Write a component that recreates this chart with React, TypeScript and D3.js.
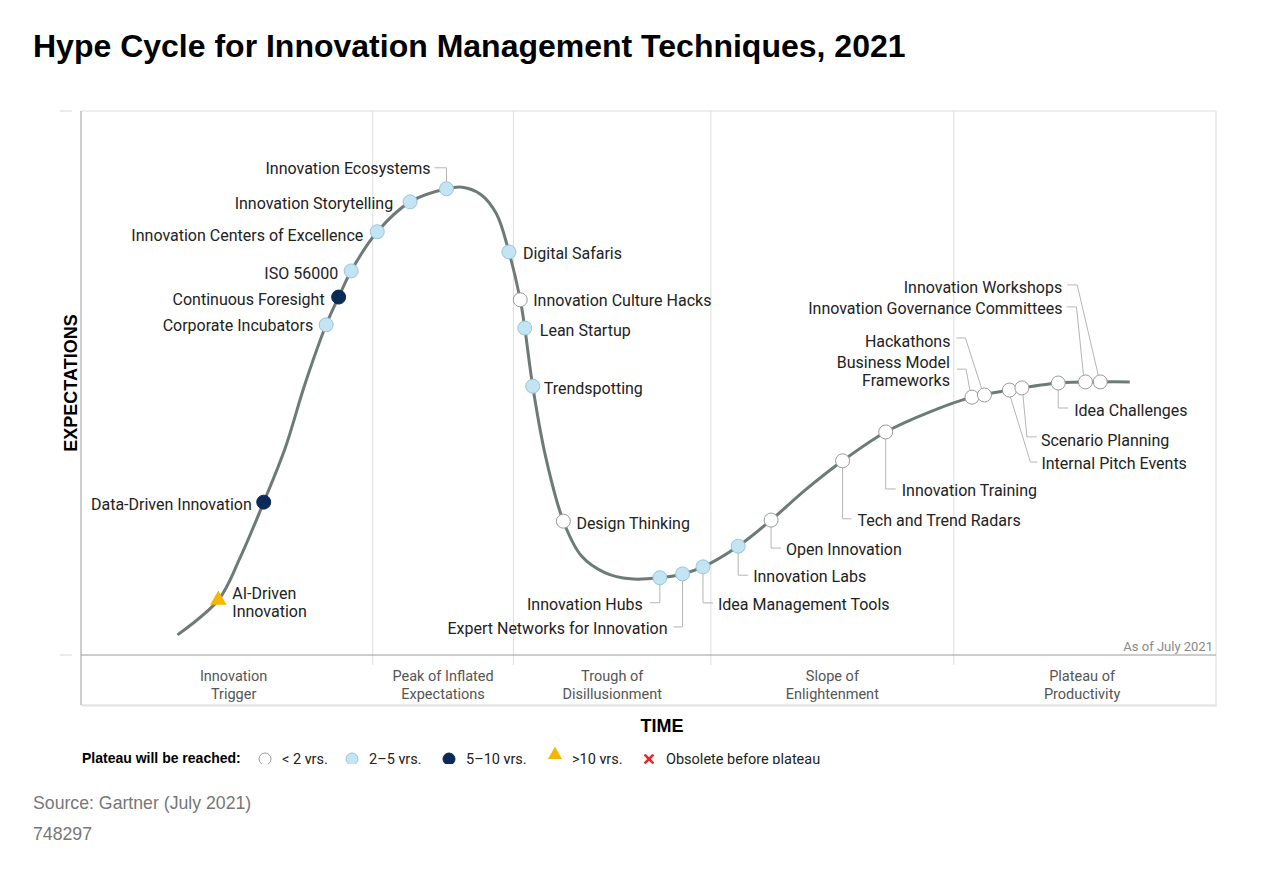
import React from "react";
import * as d3 from "d3";

// hype curve (time 0-100, expectations 0-100)
const curveTime = [8.5, 12.1, 14.0, 16.1, 18.0, 19.7, 21.6, 22.7, 23.8, 26.1, 29.0, 32.2, 33.6, 35.2, 36.6, 37.7, 38.7, 39.1, 39.8, 40.9, 42.5, 44.1, 46.2, 48.4, 51.0, 53.0, 54.8, 57.9, 60.8, 63.8, 67.1, 70.9, 74.8, 78.5, 81.8, 86.1, 89.8, 92.4];
const curveExp = [3.7, 10.1, 17.8, 28.1, 38.1, 49.6, 60.7, 65.8, 70.6, 77.8, 83.3, 85.7, 86.0, 84.7, 81.1, 74.1, 65.3, 60.1, 49.4, 36.8, 24.6, 18.2, 15.1, 14.0, 14.2, 14.9, 16.2, 20.0, 24.8, 30.3, 35.7, 41.0, 44.7, 47.4, 48.7, 50.0, 50.2, 50.2];

const techNames = [
  "AI-Driven\nInnovation", "Data-Driven Innovation", "Corporate Incubators", "Continuous Foresight",
  "ISO 56000", "Innovation Centers of Excellence", "Innovation Storytelling", "Innovation Ecosystems",
  "Digital Safaris", "Innovation Culture Hacks", "Lean Startup", "Trendspotting", "Design Thinking",
  "Innovation Hubs", "Expert Networks for Innovation", "Idea Management Tools", "Innovation Labs",
  "Open Innovation", "Tech and Trend Radars", "Innovation Training", "Business Model\nFrameworks",
  "Hackathons", "Internal Pitch Events", "Scenario Planning", "Idea Challenges",
  "Innovation Governance Committees", "Innovation Workshops",
];
const techTime = [12.1, 16.1, 21.6, 22.7, 23.8, 26.1, 29.0, 32.2, 37.7, 38.7, 39.1, 39.8, 42.5, 51.0, 53.0, 54.8, 57.9, 60.8, 67.1, 70.9, 78.5, 79.6, 81.8, 82.9, 86.1, 88.5, 89.8];
const techExp = [10.1, 28.1, 60.7, 65.8, 70.6, 77.8, 83.3, 85.7, 74.1, 65.3, 60.1, 49.4, 24.6, 14.2, 14.9, 16.2, 20.0, 24.8, 35.7, 41.0, 47.4, 47.8, 48.7, 49.1, 50.0, 50.2, 50.2];
// years to plateau: "lt2" | "2to5" | "5to10" | "gt10"
const techYears = [
  "gt10", "5to10", "2to5", "5to10", "2to5", "2to5", "2to5", "2to5", "2to5", "lt2", "2to5", "2to5", "lt2",
  "2to5", "2to5", "2to5", "2to5", "lt2", "lt2", "lt2", "lt2", "lt2", "lt2", "lt2", "lt2", "lt2", "lt2",
];

const phaseLabels = [
  ["Innovation", "Trigger"], ["Peak of Inflated", "Expectations"], ["Trough of", "Disillusionment"],
  ["Slope of", "Enlightenment"], ["Plateau of", "Productivity"],
];
const phaseBounds = [1.2, 25.7, 38.1, 55.5, 76.9, 99.5];

const legendLabels = ["< 2 yrs.", "2\u20135 yrs.", "5\u201310 yrs.", ">10 yrs.", "Obsolete before plateau"];
const legendKeys = ["lt2", "2to5", "5to10", "gt10", "obsolete"];

// label placement (pixel offsets from the marker)
type Lay = { dx: number; dy: number; anchor: "start" | "end"; leader?: [number, number][] };
const labelLayout: Lay[] = [
  { dx: 14, dy: -7, anchor: "start" },
  { dx: -12, dy: 2, anchor: "end" },
  { dx: -13, dy: 0, anchor: "end" },
  { dx: -14, dy: 2, anchor: "end" },
  { dx: -13, dy: 2, anchor: "end" },
  { dx: -14, dy: 3, anchor: "end" },
  { dx: -17, dy: 1, anchor: "end" },
  { dx: -16, dy: -21, anchor: "end", leader: [[-12, -21], [0, -21], [0, -7]] },
  { dx: 14, dy: 1, anchor: "start" },
  { dx: 13, dy: 0, anchor: "start" },
  { dx: 15, dy: 2, anchor: "start" },
  { dx: 11, dy: 2, anchor: "start" },
  { dx: 13, dy: 2, anchor: "start" },
  { dx: -17, dy: 26, anchor: "end", leader: [[0, 7], [0, 25], [-10, 25]] },
  { dx: -15, dy: 54, anchor: "end", leader: [[0, 7], [0, 53], [-9, 53]] },
  { dx: 15, dy: 37, anchor: "start", leader: [[0, 7], [0, 36], [10, 36]] },
  { dx: 15, dy: 30, anchor: "start", leader: [[0, 7], [0, 29], [10, 29]] },
  { dx: 15, dy: 29, anchor: "start", leader: [[0, 7], [0, 28], [10, 28]] },
  { dx: 15, dy: 59, anchor: "start", leader: [[0, 7], [0, 58], [9, 58]] },
  { dx: 16, dy: 58, anchor: "start", leader: [[0, 7], [0, 57], [10, 57]] },
  { dx: -22, dy: -35, anchor: "end", leader: [[-15, -28], [-6, -28], [-2, -7]] },
  { dx: -34, dy: -54, anchor: "end", leader: [[-28, -57], [-19, -57], [-3, -7]] },
  { dx: 32, dy: 73, anchor: "start", leader: [[1, 7], [21, 72], [28, 72]] },
  { dx: 19, dy: 52, anchor: "start", leader: [[1, 7], [5, 49], [15, 49]] },
  { dx: 16, dy: 27, anchor: "start", leader: [[0, 7], [0, 25], [10, 25]] },
  { dx: -23, dy: -74, anchor: "end", leader: [[-19, -75], [-9, -75], [-2, -7]] },
  { dx: -38, dy: -95, anchor: "end", leader: [[-33, -97], [-23, -97], [-2, -7]] },
];

const plot = { left: 81, right: 1216, top: 111, bottom: 655, band: 705 };
const SANS = "Roboto, 'Liberation Sans', Arial, sans-serif";
const ARIAL = "'Liberation Sans', Arial, sans-serif";

const fills: Record<string, string> = { lt2: "#ffffff", "2to5": "#c3e5f3", "5to10": "#0b2a57", gt10: "#f6b600" };
const strokes: Record<string, string> = { lt2: "#9a9a9a", "2to5": "#96c5da", "5to10": "#0b2a57", gt10: "#f6b600" };

function Marker({ kind, cx, cy, r }: { kind: string; cx: number; cy: number; r: number }) {
  if (kind === "gt10") {
    const tri = d3.symbol(d3.symbolTriangle, r * r * 2.4)();
    return <path d={tri || ""} transform={`translate(${cx},${cy})`} fill={fills.gt10} />;
  }
  if (kind === "obsolete") {
    const s = r * 0.6;
    return (
      <g transform={`translate(${cx},${cy})`} stroke="#e8262a" strokeWidth={2.6} strokeLinecap="round">
        <line x1={-s} y1={-s} x2={s} y2={s} />
        <line x1={-s} y1={s} x2={s} y2={-s} />
      </g>
    );
  }
  return <circle cx={cx} cy={cy} r={r} fill={fills[kind]} stroke={strokes[kind]} strokeWidth={1} />;
}

export default function App() {
  const x = d3.scaleLinear().domain([0, 100]).range([plot.left, plot.right]);
  const y = d3.scaleLinear().domain([0, 100]).range([plot.bottom, plot.top]);

  const pts = curveTime.map((t, i) => [t, curveExp[i]] as [number, number]);
  const line = d3
    .line<[number, number]>()
    .x((d) => x(d[0]))
    .y((d) => y(d[1]))
    .curve(d3.curveCatmullRom.alpha(0.5));

  const legendX = [265, 352, 449, 555, 649];

  return (
    <div style={{ position: "absolute", left: 0, top: 0 }}>
      <svg width={1280} height={871} style={{ display: "block" }}>
        <defs>
          <clipPath id="legclip">
            <rect x={0} y={740} width={900} height={24} />
          </clipPath>
        </defs>
        <rect width={1280} height={871} fill="#fff" />
        <text x={33} y={57} fontFamily={ARIAL} fontWeight="bold" fontSize={32} fill="#000">
          Hype Cycle for Innovation Management Techniques, 2021
        </text>

        {/* frame */}
        <line x1={60} x2={72} y1={plot.top} y2={plot.top} stroke="#d6d6d6" />
        <line x1={60} x2={72} y1={plot.bottom} y2={plot.bottom} stroke="#d6d6d6" />
        <rect x={plot.left + 1} y={plot.band} width={plot.right - plot.left} height={2} fill="#eeeeee" />
        <line x1={plot.left} x2={plot.right} y1={plot.top} y2={plot.top} stroke="#dddddd" />
        <line x1={plot.right} x2={plot.right} y1={plot.top} y2={plot.band} stroke="#dddddd" />
        <line x1={plot.left} x2={plot.right} y1={plot.band} y2={plot.band} stroke="#d8d8d8" />
        {phaseBounds.slice(1, -1).map((b, i) => (
          <line key={i} x1={x(b)} x2={x(b)} y1={plot.top} y2={plot.bottom + 10} stroke="#dddddd" />
        ))}
        <line x1={plot.left} x2={plot.left} y1={plot.top} y2={plot.band} stroke="#9a9a9a" />
        <line x1={plot.left} x2={plot.right} y1={plot.bottom} y2={plot.bottom} stroke="#9a9a9a" />

        {phaseLabels.map((lines, i) => {
          const cx = (x(phaseBounds[i]) + x(phaseBounds[i + 1])) / 2;
          return (
            <text key={i} x={cx} y={681} textAnchor="middle" fontFamily={SANS} fontSize={14.5} fill="#555">
              {lines.map((l, j) => (
                <tspan key={j} x={cx} dy={j === 0 ? 0 : 18}>
                  {l}
                </tspan>
              ))}
            </text>
          );
        })}
        <text x={plot.right - 3} y={651} textAnchor="end" fontFamily={SANS} fontSize={13} fill="#8a8a8a">
          As of July 2021
        </text>

        <text
          transform={`translate(77,${(plot.top + plot.bottom) / 2}) rotate(-90)`}
          textAnchor="middle"
          fontFamily={ARIAL}
          fontWeight="bold"
          fontSize={18}
        >
          EXPECTATIONS
        </text>
        <text x={662} y={732} textAnchor="middle" fontFamily={ARIAL} fontWeight="bold" fontSize={18}>
          TIME
        </text>

        {/* curve */}
        <path d={line(pts) || ""} fill="none" stroke="#6e7a77" strokeWidth={3} />

        {/* leaders */}
        {techNames.map((n, i) => {
          const lay = labelLayout[i];
          if (!lay.leader) return null;
          const mx = x(techTime[i]);
          const my = y(techExp[i]);
          const d = lay.leader.map((p, k) => `${k === 0 ? "M" : "L"}${mx + p[0]},${my + p[1]}`).join("");
          return <path key={n} d={d} fill="none" stroke="#b5b5b5" strokeWidth={1} />;
        })}

        {/* markers */}
        {techNames.map((n, i) => (
          <Marker key={n} kind={techYears[i]} cx={x(techTime[i])} cy={y(techExp[i])} r={7} />
        ))}

        {/* labels */}
        {techNames.map((n, i) => {
          const lay = labelLayout[i];
          const mx = x(techTime[i]) + lay.dx;
          const my = y(techExp[i]) + lay.dy;
          const lines = n.split("\n");
          return (
            <text
              key={n}
              x={mx}
              y={my}
              textAnchor={lay.anchor}
              dominantBaseline="central"
              fontFamily={SANS}
              fontSize={16}
              fill="#222"
            >
              {lines.map((l, j) => (
                <tspan key={j} x={mx} dy={j === 0 ? 0 : 18}>
                  {l}
                </tspan>
              ))}
            </text>
          );
        })}

        {/* legend */}
        <g clipPath="url(#legclip)">
          <text x={82} y={763} fontFamily={ARIAL} fontWeight="bold" fontSize={14}>
            Plateau will be reached:
          </text>
          {legendKeys.map((k, i) => (
            <g key={k}>
              <Marker kind={k} cx={legendX[i]} cy={k === "gt10" ? 755 : 759} r={6} />
              <text x={legendX[i] + 17} y={764} fontFamily={SANS} fontSize={14.5} fill="#222">
                {legendLabels[i]}
              </text>
            </g>
          ))}
        </g>

        <text x={33} y={809} fontFamily={ARIAL} fontSize={17.7} fill="#777">
          Source: Gartner (July 2021)
        </text>
        <text x={33} y={840} fontFamily={ARIAL} fontSize={17.7} fill="#777">
          748297
        </text>
      </svg>
    </div>
  );
}
